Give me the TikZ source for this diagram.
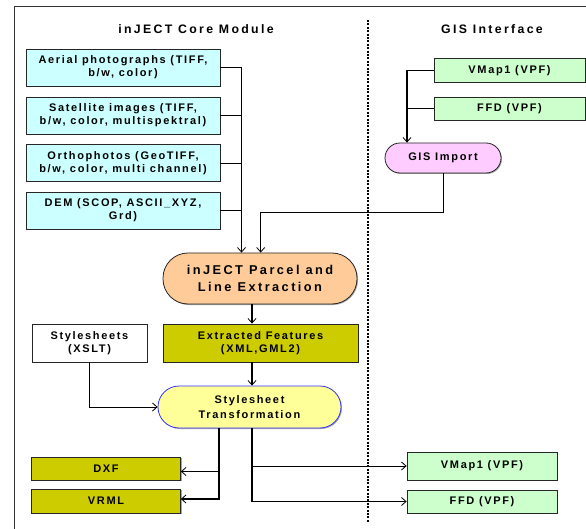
\documentclass[tikz,border=0pt]{standalone}
\usepackage{fontspec}
\setmainfont{Liberation Sans}[LetterSpace=15]
\newfontfamily\titlefont{Liberation Sans}[LetterSpace=19]
\usetikzlibrary{arrows.meta,shadows,calc}
\definecolor{cyanbox}{HTML}{CCFFFF}
\definecolor{greenbox}{HTML}{CCFFCC}
\definecolor{pinkbox}{HTML}{FFCCFF}
\definecolor{orangebox}{HTML}{FFCC99}
\definecolor{olivebox}{HTML}{CCCC00}
\definecolor{yellowbox}{HTML}{FFFF99}
\definecolor{bluebord}{HTML}{3333FF}
\definecolor{framegray}{HTML}{333333}
\tikzset{
  box/.style={draw=black!85, line width=0.8pt, align=center, inner sep=0pt,
    font=\bfseries\fontsize{11}{13}\selectfont,
    drop shadow={shadow xshift=1pt, shadow yshift=-1pt, fill=black!35, opacity=1}},
  pill/.style={box, rounded corners=#1},
  heading/.style={font=\titlefont\bfseries\fontsize{12.3}{14}\selectfont, inner sep=0pt},
  thk/.style={line width=1.7pt, draw=black},
  thn/.style={line width=0.8pt, draw=black},
  arr/.style={-{Straight Barb[length=4.5pt,width=8pt,line width=0.8pt]}},
}
\begin{document}
\begin{tikzpicture}[x=1pt,y=-1pt]
\useasboundingbox (0,0) rectangle (586,529);
% frame
\draw[framegray, line width=0.9pt] (14,535) -- (14,6) -- (590,6);
% dotted divider
\draw[line width=2.6pt, dash pattern=on 2pt off 1.4pt] (368,20) -- (368,523);
% headings
\node[heading] (h1) at (196,29) {inJECT Core Module};
\node[heading] (h2) at (492,29) {GIS Interface};

% input boxes
\node[box, fill=cyanbox, minimum width=194pt, minimum height=37pt] (aer) at (123,67.5) {Aerial photographs (TIFF,\\b/w, color)};
\node[box, fill=cyanbox, minimum width=194pt, minimum height=37pt] (sat) at (123,115.5) {Satellite images (TIFF,\\b/w, color, multispektral)};
\node[box, fill=cyanbox, minimum width=194pt, minimum height=37pt] (ort) at (123,163) {Orthophotos (GeoTIFF,\\b/w, color, multi channel)};
\node[box, fill=cyanbox, minimum width=194pt, minimum height=37pt] (dem) at (123,210.5) {DEM (SCOP, ASCII\_XYZ,\\Grd)};

% GIS side
\node[box, fill=greenbox, minimum width=151pt, minimum height=24pt] (vm1) at (509.5,70.5) {VMap1 (VPF)};
\node[box, fill=greenbox, minimum width=151pt, minimum height=23pt] (ffd1) at (509.5,108.5) {FFD (VPF)};
\node[pill=15pt, fill=pinkbox, minimum width=116pt, minimum height=30pt] (gis) at (443,158) {GIS Import};

% core
\node[pill=25pt, fill=orangebox, minimum width=194pt, minimum height=51pt, font=\titlefont\bfseries\fontsize{12.8}{17.5}\selectfont] (par) at (260,278.5) {inJECT Parcel and\\Line Extraction};
\node[box, fill=olivebox, minimum width=195pt, minimum height=38pt] (ext) at (260.5,343) {Extracted Features\\(XML,GML2)};
\node[box, fill=white, minimum width=115pt, minimum height=38pt] (sty) at (89.5,343) {Stylesheets\\(XSLT)};
\node[pill=21pt, fill=yellowbox, draw=bluebord, minimum width=183pt, minimum height=42pt, font=\bfseries\fontsize{11}{15}\selectfont] (st) at (249.5,407) {Stylesheet\\Transformation};

% outputs
\node[box, fill=olivebox, minimum width=149pt, minimum height=23pt] (dxf) at (106,468.5) {DXF};
\node[box, fill=olivebox, minimum width=149pt, minimum height=24pt] (vrml) at (106,501) {VRML};
\node[box, fill=greenbox, minimum width=150pt, minimum height=28pt] (vm2) at (482,466) {VMap1 (VPF)};
\node[box, fill=greenbox, minimum width=150pt, minimum height=23pt] (ffd2) at (482,501.5) {FFD (VPF)};

% helper coordinates
\coordinate (tk) at (241.5,0);
\coordinate (gj) at (260.7,212.7);
\coordinate (vj) at (407,0);
\coordinate (lt) at (219,0);
\coordinate (rt) at (252,0);
\coordinate (ybot) at (0,499);
\coordinate (ydxf) at (0,471.5);

% inputs to trunk
\draw[thk] (aer.east) -- (aer.east -| tk);
\draw[thk] (sat.east) -- (sat.east -| tk);
\draw[thn] (ort.east) -- (ort.east -| tk);
\draw[thk] (dem.east) -- (dem.east -| tk);
\draw[thk, arr] (aer.east -| tk) -- (tk |- par.north);
% GIS import to parcel
\draw[thn, arr] (gis.south) |- (gj) -- (gj |- par.north);
% GIS sources
\draw[thk] (vm1.west) -- (vm1.west -| vj);
\draw[thk] (ffd1.west) -- (ffd1.west -| vj);
\draw[thk, arr] (vm1.west -| vj) -- (vj |- gis.north);
% core chain
\draw[thk, arr] (par.south -| rt) -- (ext.north -| rt);
\draw[thk, arr] (ext.south -| rt) -- (st.north -| rt);
\draw[thn, arr] (sty.south) |- (st.west);
% outputs
\draw[thk, arr] (st.south -| lt) -- (lt |- ybot) -- (vrml.east |- ybot);
\draw[thn, arr] (lt |- ydxf) -- (dxf.east |- ydxf);
\draw[thk, arr] (st.south -| rt) -- (rt |- ffd2.west) -- (ffd2.west);
\draw[thn, arr] (rt |- vm2.west) -- (vm2.west);
\end{tikzpicture}
\end{document}
